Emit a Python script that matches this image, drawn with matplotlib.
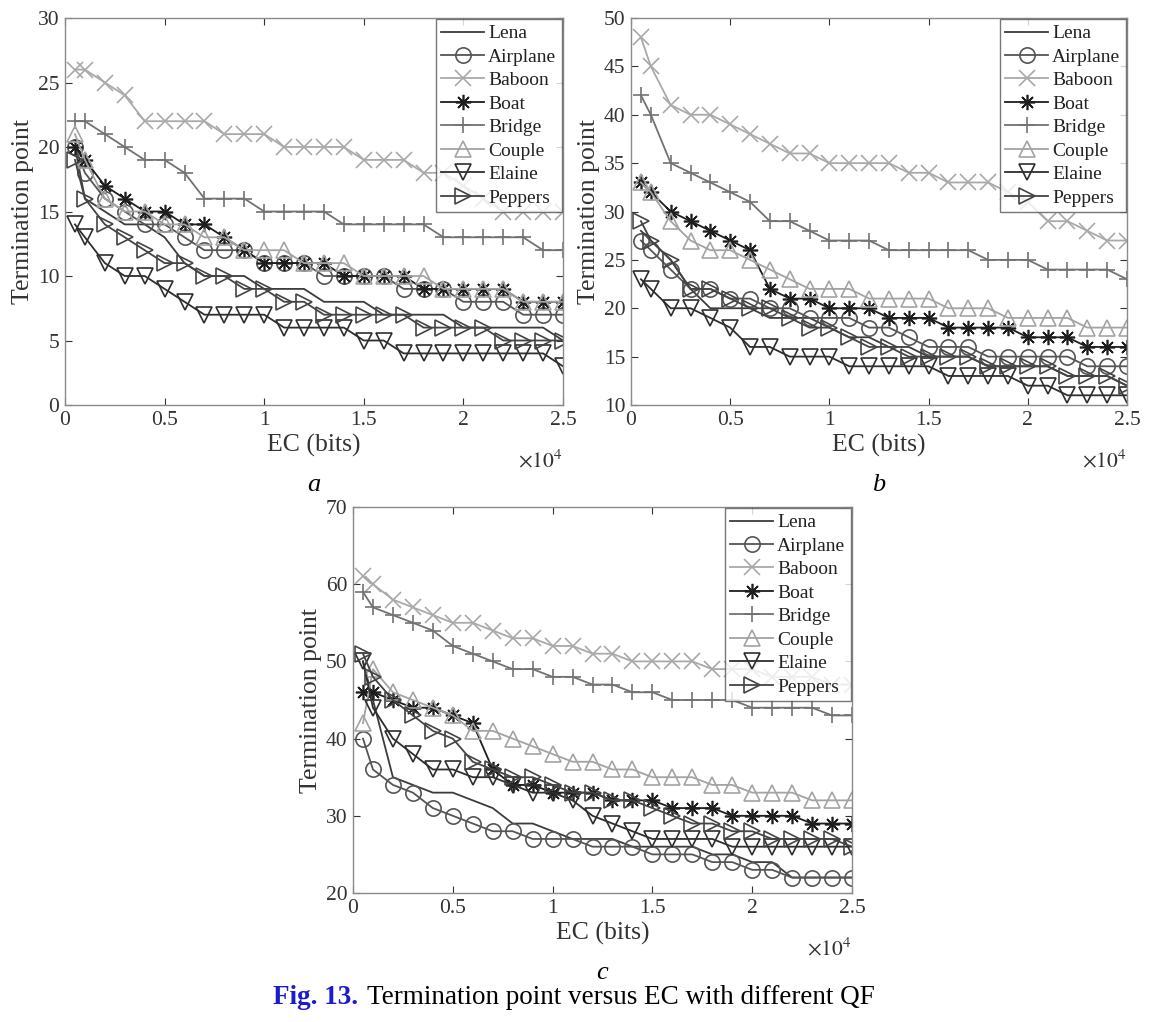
import matplotlib
matplotlib.use('Agg')
import matplotlib.pyplot as plt

plt.rcParams['font.family'] = ['Liberation Serif', 'DejaVu Serif']
plt.rcParams['mathtext.fontset'] = 'stix'

# EC in bits (plotted as x 10^4)
ec = [500, 1000, 2000, 3000, 4000, 5000, 6000, 7000, 8000, 9000, 10000,
      11000, 12000, 13000, 14000, 15000, 16000, 17000, 18000, 19000, 20000,
      21000, 22000, 23000, 24000, 25000]

names = ['Lena', 'Airplane', 'Baboon', 'Boat', 'Bridge', 'Couple', 'Elaine', 'Peppers']

# panel a
lena_a = [20, 16, 15, 14, 14, 13, 11, 10, 10, 10, 9, 9, 9, 8, 8, 8, 7, 7, 7, 7, 6, 6, 6, 6, 6, 5]
airplane_a = [20, 18, 16, 15, 14, 14, 13, 12, 12, 12, 11, 11, 11, 10, 10, 10, 10, 9, 9, 9, 8, 8, 8, 7, 7, 7]
baboon_a = [26, 26, 25, 24, 22, 22, 22, 22, 21, 21, 21, 20, 20, 20, 20, 19, 19, 19, 18, 18, 17, 16, 15, 15, 15, 15]
boat_a = [20, 19, 17, 16, 15, 15, 14, 14, 13, 12, 11, 11, 11, 11, 10, 10, 10, 10, 9, 9, 9, 9, 9, 8, 8, 8]
bridge_a = [22, 22, 21, 20, 19, 19, 18, 16, 16, 16, 15, 15, 15, 15, 14, 14, 14, 14, 14, 13, 13, 13, 13, 13, 12, 12]
couple_a = [21, 19, 16, 15, 15, 14, 14, 13, 13, 12, 12, 12, 11, 11, 11, 10, 10, 10, 10, 9, 9, 9, 9, 8, 8, 8]
elaine_a = [14, 13, 11, 10, 10, 9, 8, 7, 7, 7, 7, 6, 6, 6, 6, 5, 5, 4, 4, 4, 4, 4, 4, 4, 4, 3]
peppers_a = [19, 16, 14, 13, 12, 11, 11, 10, 10, 9, 9, 8, 8, 7, 7, 7, 7, 7, 6, 6, 6, 6, 5, 5, 5, 5]

# panel b
lena_b = [28, 27, 25, 22, 20, 20, 20, 19, 19, 19, 18, 17, 17, 16, 16, 15, 15, 15, 14, 14, 14, 14, 13, 13, 13, 12]
airplane_b = [27, 26, 24, 22, 22, 21, 21, 20, 20, 19, 19, 19, 18, 18, 17, 16, 16, 16, 15, 15, 15, 15, 15, 14, 14, 14]
baboon_b = [48, 45, 41, 40, 40, 39, 38, 37, 36, 36, 35, 35, 35, 35, 34, 34, 33, 33, 33, 32, 31, 29, 29, 28, 27, 27]
boat_b = [33, 32, 30, 29, 28, 27, 26, 22, 21, 21, 20, 20, 20, 19, 19, 19, 18, 18, 18, 18, 17, 17, 17, 16, 16, 16]
bridge_b = [42, 40, 35, 34, 33, 32, 31, 29, 29, 28, 27, 27, 27, 26, 26, 26, 26, 26, 25, 25, 25, 24, 24, 24, 24, 23]
couple_b = [33, 32, 29, 27, 26, 26, 25, 24, 23, 22, 22, 22, 21, 21, 21, 21, 20, 20, 20, 19, 19, 19, 19, 18, 18, 18]
elaine_b = [23, 22, 20, 20, 19, 18, 16, 16, 15, 15, 15, 14, 14, 14, 14, 14, 13, 13, 13, 13, 12, 12, 11, 11, 11, 11]
peppers_b = [29, 27, 25, 22, 22, 21, 20, 20, 19, 18, 18, 17, 16, 16, 15, 15, 15, 15, 14, 14, 14, 14, 13, 13, 13, 12]

# panel c
lena_c = [50, 45, 35, 34, 33, 33, 32, 31, 29, 29, 28, 27, 27, 27, 26, 26, 26, 26, 25, 25, 24, 24, 22, 22, 22, 22]
airplane_c = [40, 36, 34, 33, 31, 30, 29, 28, 28, 27, 27, 27, 26, 26, 26, 25, 25, 25, 24, 24, 23, 23, 22, 22, 22, 22]
baboon_c = [61, 60, 58, 57, 56, 55, 55, 54, 53, 53, 52, 52, 51, 51, 50, 50, 50, 50, 49, 49, 49, 48, 48, 48, 47, 47]
boat_c = [46, 46, 45, 44, 44, 43, 42, 36, 34, 34, 33, 33, 33, 32, 32, 32, 31, 31, 31, 30, 30, 30, 30, 29, 29, 29]
bridge_c = [59, 57, 56, 55, 54, 52, 51, 50, 49, 49, 48, 48, 47, 47, 46, 46, 45, 45, 45, 45, 44, 44, 44, 44, 43, 43]
couple_c = [42, 49, 46, 45, 44, 43, 41, 41, 40, 39, 38, 37, 37, 36, 36, 35, 35, 35, 34, 34, 33, 33, 33, 32, 32, 32]
elaine_c = [50, 44, 40, 38, 36, 36, 35, 35, 34, 33, 33, 32, 30, 29, 28, 27, 27, 27, 27, 26, 26, 26, 26, 26, 26, 26]
peppers_c = [51, 48, 45, 43, 41, 40, 37, 36, 35, 35, 34, 33, 33, 32, 32, 31, 30, 29, 29, 28, 28, 27, 27, 27, 27, 26]

# MATLAB-like markers; (8, 2, 0) is an 8-arm asterisk
markers = [None, 'o', 'x', (8, 2, 0), '+', '^', 'v', '>']
colors = ['#3c3c3c', '#555555', '#a9a9a9', '#1e1e1e', '#727272', '#a3a3a3', '#2e2e2e', '#444444']

panels = [
    ([lena_a, airplane_a, baboon_a, boat_a, bridge_a, couple_a, elaine_a, peppers_a],
     (0, 30), range(0, 31, 5), 'a'),
    ([lena_b, airplane_b, baboon_b, boat_b, bridge_b, couple_b, elaine_b, peppers_b],
     (10, 50), range(10, 51, 5), 'b'),
    ([lena_c, airplane_c, baboon_c, boat_c, bridge_c, couple_c, elaine_c, peppers_c],
     (20, 70), range(20, 71, 10), 'c'),
]

fig = plt.figure(figsize=(11.59, 10.22), dpi=100)
W, H = 1159, 1022
boxes = [(65, 18, 563, 405), (631, 18, 1127, 405), (353, 507, 852, 893)]

for (series, ylim, yt, tag), (l, t, r, b) in zip(panels, boxes):
    ax = fig.add_axes([l / W, 1 - b / H, (r - l) / W, (b - t) / H])
    for name, ys, m, c in zip(names, series, markers, colors):
        ax.plot(ec, ys, color=c, lw=1.3, marker=m, markersize=11,
                markerfacecolor='none', markeredgecolor=c, markeredgewidth=1.2, label=name)
    ax.set_xlim(0, 25000)
    ax.set_ylim(*ylim)
    ax.set_xticks(range(0, 25001, 5000))
    ax.set_xticklabels(['0', '0.5', '1', '1.5', '2', '2.5'])
    ax.set_yticks(list(yt))
    ax.tick_params(direction='in', top=True, right=True, labelsize=15.5, colors='#333333',
                   length=5, width=0.8, pad=4)
    for sp in ax.spines.values():
        sp.set_color('#8a8a8a')
        sp.set_linewidth(1.0)
    ax.set_xlabel('EC (bits)', fontsize=18.5, color='#333333', labelpad=3)
    ax.set_ylabel('Termination point', fontsize=18.5, color='#333333', labelpad=3)
    ax.annotate(r'$\times 10^4$', xy=(1.0, 0), xycoords='axes fraction',
                xytext=(0, -45), textcoords='offset pixels', ha='right', va='top',
                fontsize=15.5, color='#333333')
    ax.annotate(tag, xy=(0.5, 0), xycoords='axes fraction',
                xytext=(0, -80), textcoords='offset pixels', ha='center', va='center',
                fontsize=19, style='italic')
    leg = ax.legend(loc='upper right', fontsize=14, frameon=True, fancybox=False,
                    borderaxespad=0.05, handlelength=2.2, handletextpad=0.2,
                    labelspacing=0.3, borderpad=0.3)
    leg.get_frame().set_edgecolor('#555555')
    leg.get_frame().set_linewidth(1.0)
    for txt in leg.get_texts():
        txt.set_color('#222222')

fig.text(358 / W, 1 - 997 / H, 'Fig. 13.', color='#1a1ad0', fontsize=19.5, fontweight='bold',
         ha='right', va='center')
fig.text(367 / W, 1 - 997 / H, 'Termination point versus EC with different QF',
         color='black', fontsize=19.5, ha='left', va='center')

fig.savefig('out.png', dpi=100)
